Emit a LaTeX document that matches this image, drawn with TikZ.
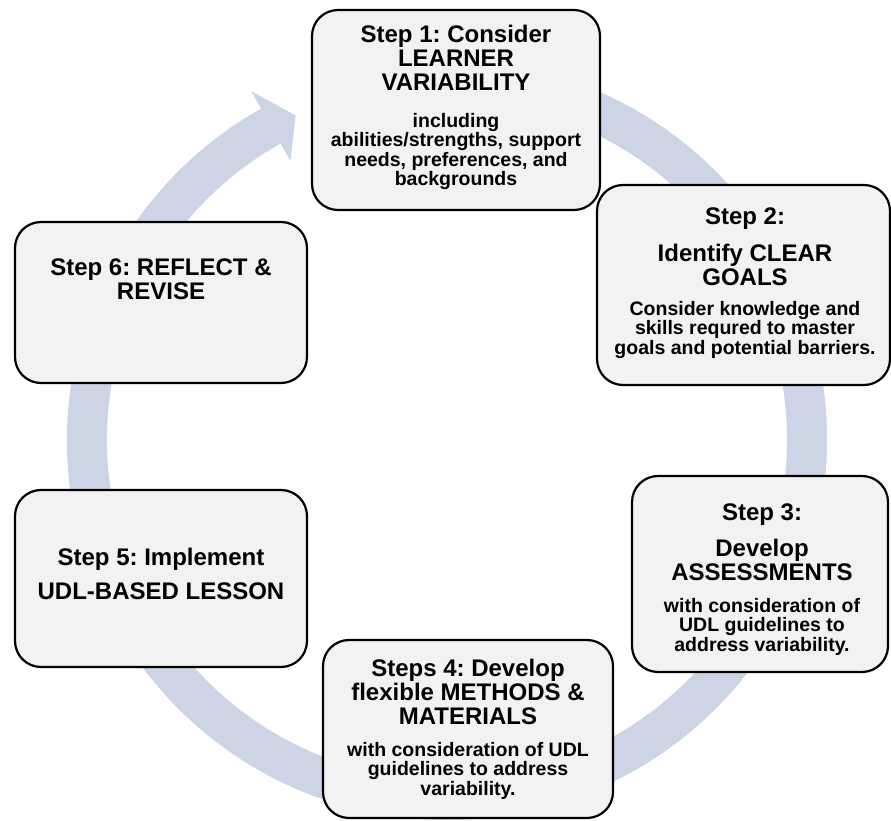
\documentclass[tikz,border=0pt]{standalone}
\usepackage{fontspec}
\setmainfont{Liberation Sans}
\frenchspacing
\begin{document}
\begin{tikzpicture}[x=1pt,y=1pt]
\definecolor{ringc}{RGB}{204,212,229}
\definecolor{boxc}{RGB}{242,242,242}
\tikzset{
  stepbox/.style={draw=black, line width=2.2pt, fill=boxc, rounded corners=26pt, inner sep=0pt},
  ttl/.style={font=\bfseries\fontsize{24}{24}\selectfont, align=center, inner sep=0pt, anchor=north},
  sub/.style={font=\bfseries\fontsize{19.5}{19.5}\selectfont, align=center, inner sep=0pt, anchor=north},
}
\useasboundingbox (0,0) rectangle (891,820);
\fill[white] (0,0) rectangle (891,820);
% ring with arrow
\coordinate (c) at (447,380);
\draw[ringc, line width=40pt] ([shift={(85:360)}]c) arc[start angle=85, end angle=-240.7, radius=360];
\coordinate (hw1) at ([shift={(119.3:400)}]c);
\coordinate (hw2) at ([shift={(119.3:320)}]c);
\coordinate (tip) at ([shift={(115:358)}]c);
\fill[ringc] (hw1) -- (tip) -- (hw2) -- cycle;
% boxes
\node[stepbox, minimum width=288pt, minimum height=200pt] (b1) at (456,710) {};
\node[stepbox, minimum width=293pt, minimum height=200pt] (b2) at (743.5,535) {};
\node[stepbox, minimum width=256pt, minimum height=196pt] (b3) at (760,246) {};
\node[stepbox, minimum width=290pt, minimum height=178pt] (b4) at (468,91) {};
\node[stepbox, minimum width=292pt, minimum height=177pt] (b5) at (161,241.5) {};
\node[stepbox, minimum width=292pt, minimum height=161pt] (b6) at (161,517.5) {};
% texts
\node[ttl] (t1) at (456,795) {Step 1: Consider\\LEARNER\\VARIABILITY};
\node[sub] (s1) at (456,707) {including\\abilities/strengths, support\\needs, preferences, and\\backgrounds};
\node[ttl] (t2a) at (745,612) {Step 2:};
\node[ttl] (t2) at (745,576) {Identify CLEAR\\GOALS};
\node[sub] (s2) at (745,519) {Consider knowledge and\\skills requred to master\\goals and potential barriers.};
\node[ttl] (t3a) at (762,316) {Step 3:};
\node[ttl] (t3) at (762,281) {Develop\\ASSESSMENTS};
\node[sub] (s3) at (762,222) {with consideration of\\UDL guidelines to\\address variability.};
\node[ttl] (t4) at (468,161) {Steps 4: Develop\\flexible METHODS \&\\MATERIALS};
\node[sub] (s4) at (468,78) {with consideration of UDL\\guidelines to address\\variability.};
\node[ttl, font=\bfseries\fontsize{24}{34}\selectfont] (t5) at (161,272) {Step 5: Implement\\UDL-BASED LESSON};
\node[ttl] (t6) at (161,561) {Step 6: REFLECT \&\\REVISE};
\end{tikzpicture}
\end{document}
